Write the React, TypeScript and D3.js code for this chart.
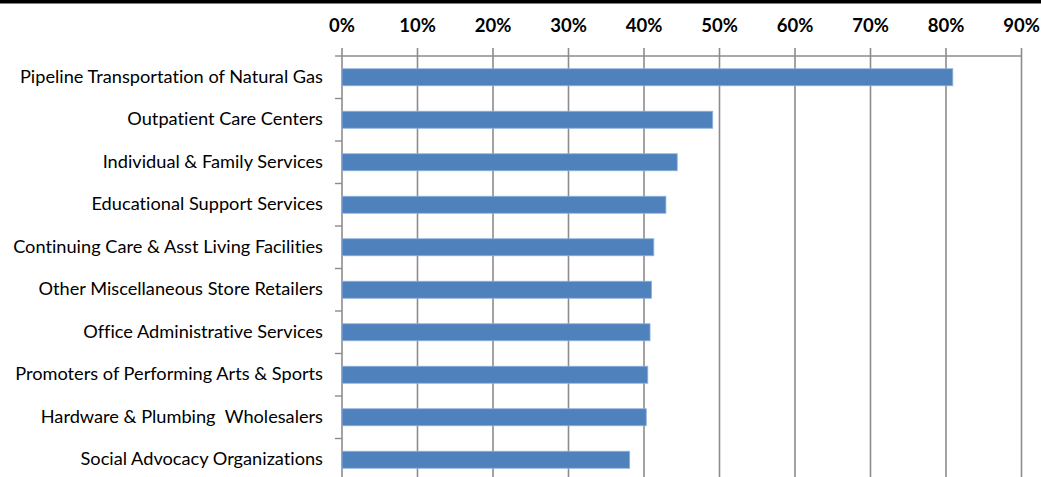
import React from "react";
import * as d3 from "d3";

const categories = [
  "Pipeline Transportation of Natural Gas",
  "Outpatient Care Centers",
  "Individual & Family Services",
  "Educational Support Services",
  "Continuing Care & Asst Living Facilities",
  "Other Miscellaneous Store Retailers",
  "Office Administrative Services",
  "Promoters of Performing Arts & Sports",
  "Hardware & Plumbing  Wholesalers",
  "Social Advocacy Organizations",
];
const values = [0.809, 0.491, 0.444, 0.429, 0.413, 0.41, 0.408, 0.405, 0.403, 0.381];
const ticks = [0, 0.1, 0.2, 0.3, 0.4, 0.5, 0.6, 0.7, 0.8, 0.9];

const W = 1041;
const H = 477;
const left = 342;
const right = 1021.5;
const top = 56;
const band = 42.5;

export default function App() {
  const x = d3.scaleLinear().domain([0, 0.9]).range([left, right]);
  const y = d3
    .scaleBand<string>()
    .domain(categories)
    .range([top, top + band * categories.length])
    .paddingInner(0.6)
    .paddingOuter(0.3);
  const fmt = d3.format(".0%");
  const bounds = d3.range(categories.length + 1).map((i) => top + i * band);
  return (
    <svg
      width={W}
      height={H}
      style={{
        position: "absolute",
        left: 0,
        top: 0,
        background: "#fff",
        fontVariantLigatures: "none",
      }}
      fontFamily="Lato, 'Open Sans', sans-serif"
    >
      <rect x={0} y={0} width={W} height={3.5} fill="#000" />
      {ticks.map((t) => (
        <g key={t}>
          <line x1={x(t)} x2={x(t)} y1={48} y2={H} stroke="#8c8c8c" strokeWidth={1.6} />
          <text
            x={x(t)}
            y={32}
            textAnchor="middle"
            fontSize={18.5}
            fontWeight="bold"
            fill="#000"
          >
            {fmt(t)}
          </text>
        </g>
      ))}
      <line x1={left} x2={right} y1={top} y2={top} stroke="#8c8c8c" strokeWidth={1.6} />
      {bounds.map((b, i) => (
        <line key={i} x1={335} x2={left} y1={b} y2={b} stroke="#8c8c8c" strokeWidth={1.4} />
      ))}
      {categories.map((c, i) => (
        <g key={c}>
          <rect
            x={x(0)}
            y={y(c)!}
            width={x(values[i]) - x(0)}
            height={y.bandwidth()}
            fill="#4F81BD"
            stroke="#8DB0DC"
            strokeWidth={0.8}
          />
          <text
            x={323}
            y={y(c)! + y.bandwidth() / 2}
            dy="0.3em"
            textAnchor="end"
            fontSize={18.2}
            fill="#000"
            style={{ whiteSpace: "pre" }}
          >
            {c}
          </text>
        </g>
      ))}
    </svg>
  );
}
